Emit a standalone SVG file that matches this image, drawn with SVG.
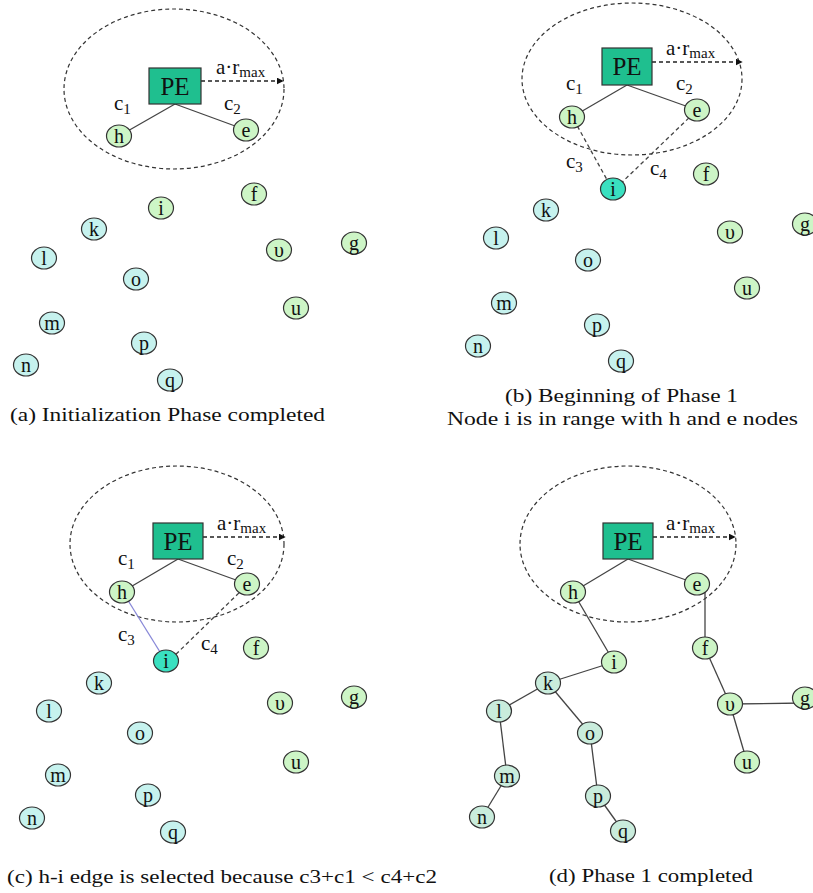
<svg xmlns="http://www.w3.org/2000/svg" width="813" height="893" viewBox="0 0 813 893">
<defs>
<marker id="arr" viewBox="0 0 10 10" refX="9" refY="5" markerWidth="7" markerHeight="7" orient="auto" markerUnits="userSpaceOnUse"><path d="M0,0 L10,5 L0,10 z" fill="#111"/></marker>
</defs>
<style>
text{font-family:"Liberation Serif","Times New Roman",serif;fill:#111}
.lbl{font-size:20px;text-anchor:middle}
.pe{font-size:25px;text-anchor:middle}
.cap{font-size:19px}
.c{font-size:21px}
.sub{font-size:15px}
.range{fill:none;stroke:#333;stroke-width:1.2;stroke-dasharray:4 3}
.box{fill:#1fbf8f;stroke:#333;stroke-width:1.2}
.ng{fill:#cdf5c6;stroke:#333;stroke-width:1.2}
.nc{fill:#c6f2ee;stroke:#333;stroke-width:1.2}
.nt{fill:#3ae0c0;stroke:#333;stroke-width:1.2}
.nd{fill:#c9ecdc;stroke:#333;stroke-width:1.2}
.e{stroke:#444;stroke-width:1.3;fill:none}
.ed{stroke:#444;stroke-width:1.3;stroke-dasharray:4 3;fill:none}
.ep{stroke:#8888d8;stroke-width:1.3;fill:none}
.ar{stroke:#222;stroke-width:1.3;stroke-dasharray:4 3;fill:none}
</style>
<rect width="813" height="893" fill="#fff"/>

<!-- connectors -->
<g id="connectors">
<!-- panel a -->
<ellipse class="range" cx="174" cy="89" rx="110" ry="80"/>
<line class="ar" x1="201" y1="81" x2="283" y2="81" marker-end="url(#arr)"/>
<line class="e" x1="175" y1="104" x2="119" y2="136"/>
<line class="e" x1="175" y1="104" x2="246" y2="130"/>
<!-- panel b -->
<ellipse class="range" cx="632" cy="79" rx="110" ry="76"/>
<line class="ar" x1="652" y1="62" x2="742" y2="62" marker-end="url(#arr)"/>
<line class="e" x1="627" y1="85" x2="572" y2="117"/>
<line class="e" x1="627" y1="85" x2="697" y2="110"/>
<line class="ed" x1="574" y1="120" x2="611" y2="187"/>
<line class="ed" x1="694" y1="113" x2="615" y2="189"/>
<!-- panel c -->
<ellipse class="range" cx="177" cy="544" rx="107" ry="78"/>
<line class="ar" x1="203" y1="537" x2="285" y2="537" marker-end="url(#arr)"/>
<line class="e" x1="178" y1="559" x2="122" y2="592"/>
<line class="e" x1="178" y1="559" x2="247" y2="584"/>
<line class="ep" x1="124" y1="594" x2="165" y2="660"/>
<line class="ed" x1="244" y1="588" x2="168" y2="662"/>
<!-- panel d -->
<ellipse class="range" cx="628" cy="544" rx="108" ry="78"/>
<line class="ar" x1="653" y1="537" x2="735" y2="537" marker-end="url(#arr)"/>
<line class="e" x1="628" y1="559" x2="573" y2="592"/>
<line class="e" x1="628" y1="559" x2="697" y2="584"/>
<line class="e" x1="573" y1="592" x2="614" y2="662"/>
<line class="e" x1="705" y1="584" x2="705" y2="648"/>
<line class="e" x1="614" y1="662" x2="548" y2="683"/>
<line class="e" x1="548" y1="683" x2="499" y2="711"/>
<line class="e" x1="548" y1="683" x2="590" y2="733"/>
<line class="e" x1="499" y1="711" x2="507" y2="776"/>
<line class="e" x1="507" y1="776" x2="482" y2="817"/>
<line class="e" x1="590" y1="733" x2="598" y2="796"/>
<line class="e" x1="598" y1="796" x2="623" y2="831"/>
<line class="e" x1="705" y1="648" x2="730" y2="704"/>
<line class="e" x1="730" y1="704" x2="805" y2="703"/>
<line class="e" x1="730" y1="704" x2="747" y2="762"/>
</g>

<!-- ===== Panel (a) ===== -->
<g id="a-PE"><rect class="box" x="149" y="68" width="52" height="36"/><text class="pe" x="175" y="95">PE</text></g>
<g id="a-range-label"><text class="c" x="216" y="74">a·r<tspan class="sub" dy="3">max</tspan></text></g>
<g id="a-c1"><text class="c" x="114" y="110">c<tspan class="sub" dy="4">1</tspan></text></g>
<g id="a-c2"><text class="c" x="224" y="110">c<tspan class="sub" dy="4">2</tspan></text></g>
<g id="a-h"><ellipse class="ng" cx="119" cy="136" rx="12.5" ry="11"/><text class="lbl" x="119" y="142.5">h</text></g>
<g id="a-e"><ellipse class="ng" cx="246" cy="130" rx="12.5" ry="11"/><text class="lbl" x="246" y="136.5">e</text></g>
<g id="a-f"><ellipse class="ng" cx="254" cy="194" rx="12.5" ry="11"/><text class="lbl" x="254" y="200.5">f</text></g>
<g id="a-i"><ellipse class="ng" cx="161" cy="208" rx="12.5" ry="11"/><text class="lbl" x="161" y="214.5">i</text></g>
<g id="a-k"><ellipse class="nc" cx="94" cy="229" rx="12.5" ry="11"/><text class="lbl" x="94" y="235.5">k</text></g>
<g id="a-l"><ellipse class="nc" cx="44" cy="258" rx="12.5" ry="11"/><text class="lbl" x="44" y="264.5">l</text></g>
<g id="a-o"><ellipse class="nc" cx="136" cy="279" rx="12.5" ry="11"/><text class="lbl" x="136" y="285.5">o</text></g>
<g id="a-v"><ellipse class="ng" cx="279" cy="250" rx="12.5" ry="11"/><text class="lbl" x="279" y="256.5">υ</text></g>
<g id="a-g"><ellipse class="ng" cx="354" cy="243" rx="12.5" ry="11"/><text class="lbl" x="354" y="249.5">g</text></g>
<g id="a-u"><ellipse class="ng" cx="296" cy="308" rx="12.5" ry="11"/><text class="lbl" x="296" y="314.5">u</text></g>
<g id="a-m"><ellipse class="nc" cx="52" cy="323" rx="12.5" ry="11"/><text class="lbl" x="52" y="329.5">m</text></g>
<g id="a-p"><ellipse class="nc" cx="144" cy="343" rx="12.5" ry="11"/><text class="lbl" x="144" y="349.5">p</text></g>
<g id="a-n"><ellipse class="nc" cx="26" cy="365" rx="12.5" ry="11"/><text class="lbl" x="26" y="371.5">n</text></g>
<g id="a-q"><ellipse class="nc" cx="170" cy="380" rx="12.5" ry="11"/><text class="lbl" x="170" y="386.5">q</text></g>
<text class="cap" x="10" y="421" textLength="315" lengthAdjust="spacingAndGlyphs">(a) Initialization Phase completed</text>

<!-- ===== Panel (b) ===== -->
<g id="b-PE"><rect class="box" x="602" y="48" width="50" height="37"/><text class="pe" x="627" y="75">PE</text></g>
<g id="b-range-label"><text class="c" x="666" y="55">a·r<tspan class="sub" dy="3">max</tspan></text></g>
<g id="b-c1"><text class="c" x="566" y="90">c<tspan class="sub" dy="4">1</tspan></text></g>
<g id="b-c2"><text class="c" x="676" y="90">c<tspan class="sub" dy="4">2</tspan></text></g>
<g id="b-c3"><text class="c" x="566" y="168">c<tspan class="sub" dy="4">3</tspan></text></g>
<g id="b-c4"><text class="c" x="650" y="175">c<tspan class="sub" dy="4">4</tspan></text></g>
<g id="b-h"><ellipse class="ng" cx="572" cy="117" rx="12.5" ry="11"/><text class="lbl" x="572" y="123.5">h</text></g>
<g id="b-e"><ellipse class="ng" cx="697" cy="110" rx="12.5" ry="11"/><text class="lbl" x="697" y="116.5">e</text></g>
<g id="b-i"><ellipse class="nt" cx="613" cy="189" rx="12.5" ry="11"/><text class="lbl" x="613" y="195.5">i</text></g>
<g id="b-f"><ellipse class="ng" cx="706" cy="174" rx="12.5" ry="11"/><text class="lbl" x="706" y="180.5">f</text></g>
<g id="b-k"><ellipse class="nc" cx="546" cy="210" rx="12.5" ry="11"/><text class="lbl" x="546" y="216.5">k</text></g>
<g id="b-l"><ellipse class="nc" cx="496" cy="238" rx="12.5" ry="11"/><text class="lbl" x="496" y="244.5">l</text></g>
<g id="b-o"><ellipse class="nc" cx="588" cy="260" rx="12.5" ry="11"/><text class="lbl" x="588" y="266.5">o</text></g>
<g id="b-v"><ellipse class="ng" cx="730" cy="232" rx="12.5" ry="11"/><text class="lbl" x="730" y="238.5">υ</text></g>
<g id="b-g"><ellipse class="ng" cx="805" cy="224" rx="12.5" ry="11"/><text class="lbl" x="805" y="230.5">g</text></g>
<g id="b-u"><ellipse class="ng" cx="747" cy="288" rx="12.5" ry="11"/><text class="lbl" x="747" y="294.5">u</text></g>
<g id="b-m"><ellipse class="nc" cx="504" cy="303" rx="12.5" ry="11"/><text class="lbl" x="504" y="309.5">m</text></g>
<g id="b-p"><ellipse class="nc" cx="597" cy="325" rx="12.5" ry="11"/><text class="lbl" x="597" y="331.5">p</text></g>
<g id="b-n"><ellipse class="nc" cx="478" cy="346" rx="12.5" ry="11"/><text class="lbl" x="478" y="352.5">n</text></g>
<g id="b-q"><ellipse class="nc" cx="621" cy="361" rx="12.5" ry="11"/><text class="lbl" x="621" y="367.5">q</text></g>
<text class="cap" x="505" y="402" textLength="233" lengthAdjust="spacingAndGlyphs">(b) Beginning of Phase 1</text>
<text class="cap" x="447" y="425" textLength="351" lengthAdjust="spacingAndGlyphs">Node i is in range with h and e nodes</text>

<!-- ===== Panel (c) ===== -->
<g id="c-PE"><rect class="box" x="153" y="523" width="50" height="36"/><text class="pe" x="178" y="550">PE</text></g>
<g id="c-range-label"><text class="c" x="217" y="530">a·r<tspan class="sub" dy="3">max</tspan></text></g>
<g id="c-c1"><text class="c" x="118" y="565">c<tspan class="sub" dy="4">1</tspan></text></g>
<g id="c-c2"><text class="c" x="227" y="565">c<tspan class="sub" dy="4">2</tspan></text></g>
<g id="c-c3"><text class="c" x="118" y="641">c<tspan class="sub" dy="4">3</tspan></text></g>
<g id="c-c4"><text class="c" x="201" y="650">c<tspan class="sub" dy="4">4</tspan></text></g>
<g id="c-h"><ellipse class="ng" cx="122" cy="592" rx="12.5" ry="11"/><text class="lbl" x="122" y="598.5">h</text></g>
<g id="c-e"><ellipse class="ng" cx="247" cy="584" rx="12.5" ry="11"/><text class="lbl" x="247" y="590.5">e</text></g>
<g id="c-i"><ellipse class="nt" cx="166" cy="661" rx="12.5" ry="11"/><text class="lbl" x="166" y="667.5">i</text></g>
<g id="c-f"><ellipse class="ng" cx="256" cy="648" rx="12.5" ry="11"/><text class="lbl" x="256" y="654.5">f</text></g>
<g id="c-k"><ellipse class="nc" cx="99" cy="683" rx="12.5" ry="11"/><text class="lbl" x="99" y="689.5">k</text></g>
<g id="c-l"><ellipse class="nc" cx="49" cy="711" rx="12.5" ry="11"/><text class="lbl" x="49" y="717.5">l</text></g>
<g id="c-o"><ellipse class="nc" cx="140" cy="733" rx="12.5" ry="11"/><text class="lbl" x="140" y="739.5">o</text></g>
<g id="c-v"><ellipse class="ng" cx="280" cy="703" rx="12.5" ry="11"/><text class="lbl" x="280" y="709.5">υ</text></g>
<g id="c-g"><ellipse class="ng" cx="354" cy="697" rx="12.5" ry="11"/><text class="lbl" x="354" y="703.5">g</text></g>
<g id="c-u"><ellipse class="ng" cx="296" cy="762" rx="12.5" ry="11"/><text class="lbl" x="296" y="768.5">u</text></g>
<g id="c-m"><ellipse class="nc" cx="58" cy="775" rx="12.5" ry="11"/><text class="lbl" x="58" y="781.5">m</text></g>
<g id="c-p"><ellipse class="nc" cx="148" cy="795" rx="12.5" ry="11"/><text class="lbl" x="148" y="801.5">p</text></g>
<g id="c-n"><ellipse class="nc" cx="32" cy="818" rx="12.5" ry="11"/><text class="lbl" x="32" y="824.5">n</text></g>
<g id="c-q"><ellipse class="nc" cx="173" cy="832" rx="12.5" ry="11"/><text class="lbl" x="173" y="838.5">q</text></g>
<text class="cap" x="7" y="883" textLength="430" lengthAdjust="spacingAndGlyphs">(c) h-i edge is selected because c3+c1 &lt; c4+c2</text>

<!-- ===== Panel (d) ===== -->
<g id="d-PE"><rect class="box" x="603" y="523" width="50" height="36"/><text class="pe" x="628" y="550">PE</text></g>
<g id="d-range-label"><text class="c" x="666" y="530">a·r<tspan class="sub" dy="3">max</tspan></text></g>
<g id="d-h"><ellipse class="ng" cx="573" cy="592" rx="12.5" ry="11"/><text class="lbl" x="573" y="598.5">h</text></g>
<g id="d-e"><ellipse class="ng" cx="697" cy="584" rx="12.5" ry="11"/><text class="lbl" x="697" y="590.5">e</text></g>
<g id="d-f"><ellipse class="ng" cx="705" cy="648" rx="12.5" ry="11"/><text class="lbl" x="705" y="654.5">f</text></g>
<g id="d-i"><ellipse class="ng" cx="614" cy="662" rx="12.5" ry="11"/><text class="lbl" x="614" y="668.5">i</text></g>
<g id="d-k"><ellipse class="nd" cx="548" cy="683" rx="12.5" ry="11"/><text class="lbl" x="548" y="689.5">k</text></g>
<g id="d-l"><ellipse class="nd" cx="499" cy="711" rx="12.5" ry="11"/><text class="lbl" x="499" y="717.5">l</text></g>
<g id="d-o"><ellipse class="nd" cx="590" cy="733" rx="12.5" ry="11"/><text class="lbl" x="590" y="739.5">o</text></g>
<g id="d-v"><ellipse class="ng" cx="730" cy="704" rx="12.5" ry="11"/><text class="lbl" x="730" y="710.5">υ</text></g>
<g id="d-g"><ellipse class="ng" cx="805" cy="698" rx="12.5" ry="11"/><text class="lbl" x="805" y="704.5">g</text></g>
<g id="d-u"><ellipse class="ng" cx="747" cy="762" rx="12.5" ry="11"/><text class="lbl" x="747" y="768.5">u</text></g>
<g id="d-m"><ellipse class="nd" cx="507" cy="776" rx="12.5" ry="11"/><text class="lbl" x="507" y="782.5">m</text></g>
<g id="d-p"><ellipse class="nd" cx="598" cy="796" rx="12.5" ry="11"/><text class="lbl" x="598" y="802.5">p</text></g>
<g id="d-n"><ellipse class="nd" cx="482" cy="817" rx="12.5" ry="11"/><text class="lbl" x="482" y="823.5">n</text></g>
<g id="d-q"><ellipse class="nd" cx="623" cy="831" rx="12.5" ry="11"/><text class="lbl" x="623" y="837.5">q</text></g>
<text class="cap" x="549" y="882" textLength="204" lengthAdjust="spacingAndGlyphs">(d) Phase 1 completed</text>
</svg>
